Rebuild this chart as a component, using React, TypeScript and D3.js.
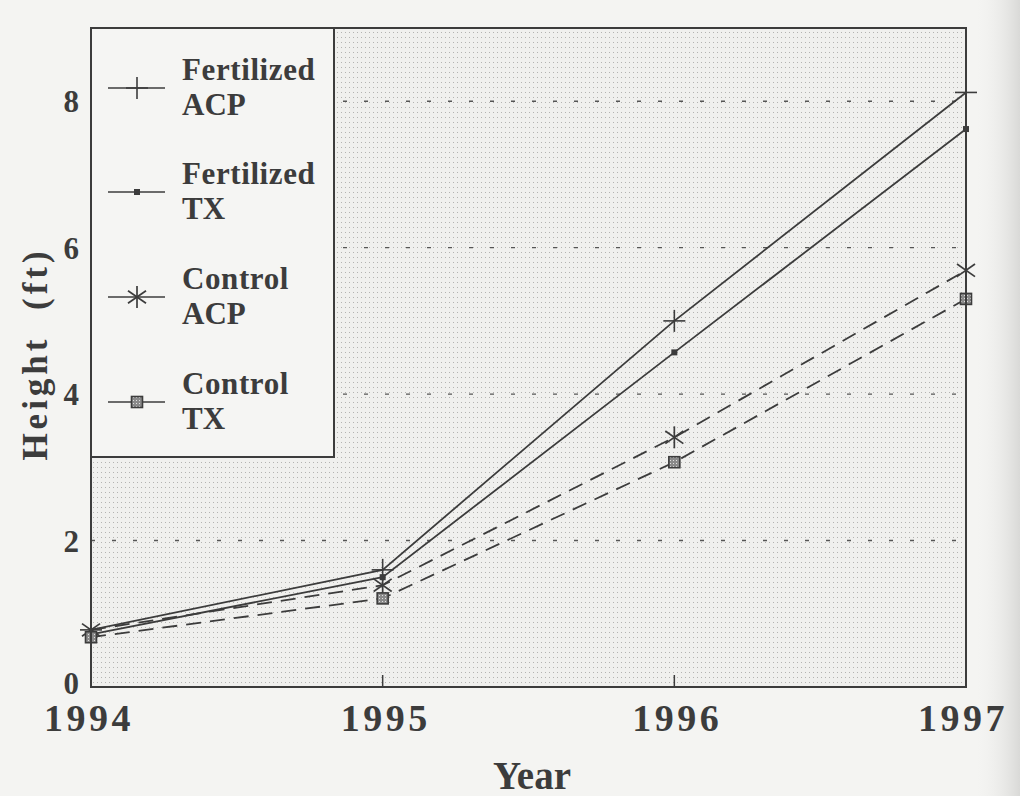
import React from "react";
import * as d3 from "d3";

const years = [1994, 1995, 1996, 1997];
const fertilizedACP = [0.78, 1.6, 5.0, 8.12];
const fertilizedTX = [0.72, 1.5, 4.57, 7.62];
const controlACP = [0.78, 1.39, 3.41, 5.69];
const controlTX = [0.68, 1.21, 3.07, 5.3];
const yTicks = [0, 2, 4, 6, 8];
const gridTicks = [2, 4, 6, 8];
const xTickLabels = ["1994", "1995", "1996", "1997"];

const seriesNames = [
  ["Fertilized", "ACP"],
  ["Fertilized", "TX"],
  ["Control", "ACP"],
  ["Control", "TX"],
];
const seriesValues = [fertilizedACP, fertilizedTX, controlACP, controlTX];
const seriesMarkers = ["plus", "dot", "star", "square"];
const seriesDashed = [false, false, true, true];

const INK = "#3c3c3c";
const FONT = "Liberation Serif, Times New Roman, Times, serif";

function Marker({ type, x, y }: { type: string; x: number; y: number }) {
  if (type === "plus") {
    const r = 11;
    return (
      <g stroke={INK} strokeWidth={1.6}>
        <line x1={x - r} x2={x + r} y1={y} y2={y} />
        <line x1={x} x2={x} y1={y - r} y2={y + r} />
      </g>
    );
  }
  if (type === "dot") {
    return <rect x={x - 3} y={y - 3} width={6} height={6} fill={INK} />;
  }
  if (type === "star") {
    const r = 11;
    const angs = [90, 35, -35];
    return (
      <g stroke={INK} strokeWidth={1.7}>
        {angs.map((a) => {
          const rad = (a * Math.PI) / 180;
          const dx = Math.cos(rad) * r;
          const dy = Math.sin(rad) * r;
          return <line key={a} x1={x - dx} y1={y - dy} x2={x + dx} y2={y + dy} />;
        })}
      </g>
    );
  }
  return (
    <rect
      x={x - 5.5}
      y={y - 5.5}
      width={11}
      height={11}
      fill="url(#sqfill)"
      stroke={INK}
      strokeWidth={1.6}
    />
  );
}

export default function App() {
  const left = 91;
  const right = 966;
  const top = 28;
  const bottom = 687;
  const x = d3.scaleLinear().domain([1994, 1997]).range([left, right]);
  const y = d3.scaleLinear().domain([0, 9]).range([bottom, top]);
  const line = d3
    .line<number>()
    .x((_, i) => x(years[i]))
    .y((d) => y(d));

  const legX = 91;
  const legY = 28;
  const legW = 243;
  const legH = 429;
  const entryY = [88, 192, 297, 402];

  return (
    <svg
      width={1020}
      height={796}
      style={{ position: "absolute", left: 0, top: 0, fontFamily: FONT }}
    >
      <defs>
        <pattern id="dots" width={4} height={5} patternUnits="userSpaceOnUse">
          <rect width={4} height={5} fill="#f0f0ee" />
          <rect x={1} y={2} width={1} height={1} fill="#b3b3b1" />
        </pattern>
        <pattern id="sqfill" width={3} height={3} patternUnits="userSpaceOnUse">
          <rect width={3} height={3} fill="#8a8a8a" />
          <rect x={1} y={1} width={1} height={1} fill="#e0e0e0" />
        </pattern>
        <linearGradient id="edge" x1="0" x2="1" y1="0" y2="0">
          <stop offset="0" stopColor="#f3f3f1" stopOpacity={0} />
          <stop offset="1" stopColor="#d9d9d7" stopOpacity={1} />
        </linearGradient>
      </defs>
      <rect width={1020} height={796} fill="#f4f4f2" />
      <rect x={975} y={0} width={45} height={796} fill="url(#edge)" />

      {/* plot area */}
      <rect x={left} y={top} width={right - left} height={bottom - top} fill="url(#dots)" />

      {/* grid */}
      {gridTicks.map((t) => (
        <line
          key={t}
          x1={left}
          x2={right}
          y1={y(t)}
          y2={y(t)}
          stroke="#555"
          strokeWidth={1.4}
          strokeDasharray="4 17"
        />
      ))}

      {/* x ticks */}
      {years.slice(1, 3).map((yr) => (
        <line key={yr} x1={x(yr)} x2={x(yr)} y1={bottom} y2={bottom - 12} stroke={INK} strokeWidth={1.5} />
      ))}

      {/* series lines */}
      {seriesValues.map((vals, i) => (
        <path
          key={i}
          d={line(vals) || ""}
          fill="none"
          stroke={INK}
          strokeWidth={1.8}
          strokeDasharray={seriesDashed[i] ? "15 9" : undefined}
        />
      ))}
      {seriesValues.map((vals, i) =>
        vals.map((v, j) => (
          <Marker key={`${i}-${j}`} type={seriesMarkers[i]} x={x(years[j])} y={y(v)} />
        ))
      )}

      {/* frame */}
      <rect x={left} y={top} width={right - left} height={bottom - top} fill="none" stroke={INK} strokeWidth={2} />

      {/* legend */}
      <rect x={legX} y={legY} width={legW} height={legH} fill="#f5f5f3" stroke={INK} strokeWidth={2} />
      {seriesNames.map((nm, i) => (
        <g key={i}>
          <line
            x1={108}
            x2={165}
            y1={entryY[i]}
            y2={entryY[i]}
            stroke={INK}
            strokeWidth={1.5}
          />
          <Marker type={seriesMarkers[i]} x={137} y={entryY[i]} />
          <text x={182} y={entryY[i] - 8} fontSize={31} fontWeight="bold" fill={INK} letterSpacing={0.6}>
            {nm[0]}
          </text>
          <text x={182} y={entryY[i] + 27} fontSize={31} fontWeight="bold" fill={INK}>
            {nm[1]}
          </text>
        </g>
      ))}

      {/* y tick labels */}
      {yTicks.map((t) => (
        <text
          key={t}
          x={79}
          y={y(t) + (t === 0 ? 7 : 11)}
          textAnchor="end"
          fontSize={31}
          fontWeight="bold"
          fill={INK}
        >
          {t}
        </text>
      ))}

      {/* x tick labels */}
      {years.map((yr, i) => (
        <text
          key={yr}
          x={x(yr) + (i === 0 ? -2 : i === 3 ? -3 : 3)}
          y={731}
          textAnchor="middle"
          fontSize={38}
          fontWeight="bold"
          fill={INK}
          letterSpacing={3.5}
        >
          {xTickLabels[i]}
        </text>
      ))}

      <text x={532} y={789} textAnchor="middle" fontSize={39} fontWeight="bold" fill={INK}>
        Year
      </text>
      <text
        transform="translate(47,354) rotate(-90)"
        textAnchor="middle"
        fontSize={35}
        fontWeight="bold"
        fill={INK}
        letterSpacing={4}
        style={{ whiteSpace: "pre" }}
      >
        {"Height  (ft)"}
      </text>
    </svg>
  );
}
